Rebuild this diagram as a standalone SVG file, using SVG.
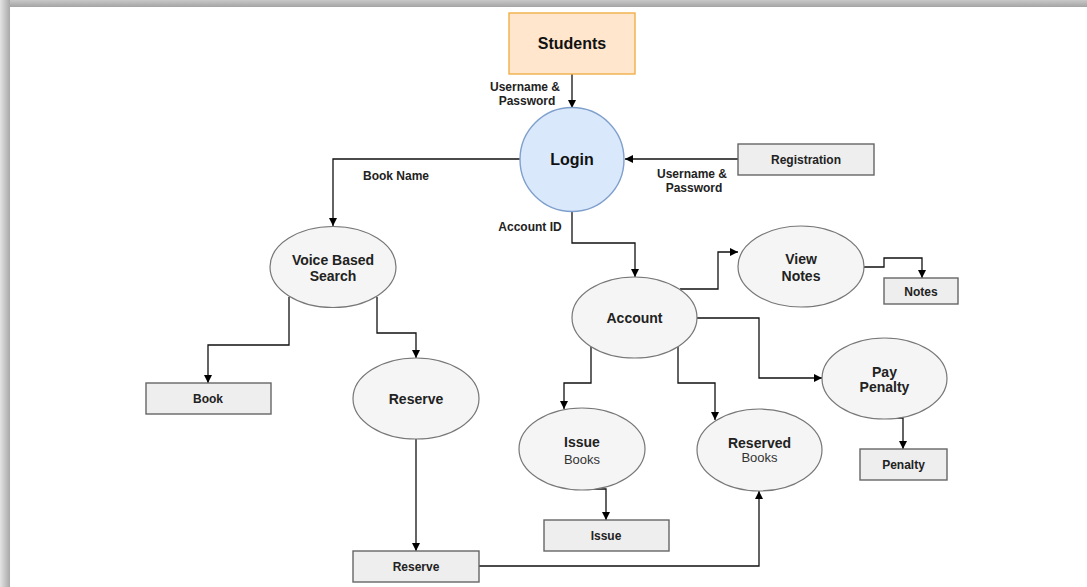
<svg xmlns="http://www.w3.org/2000/svg" width="1087" height="587" viewBox="0 0 1087 587">
<defs>
<linearGradient id="gTop" x1="0" y1="0" x2="0" y2="1"><stop offset="0" stop-color="#c8c8c8"/><stop offset="1" stop-color="#a4a4a4"/></linearGradient>
<linearGradient id="gLeft" x1="0" y1="0" x2="1" y2="0"><stop offset="0" stop-color="#e4e4e4"/><stop offset="1" stop-color="#a8a8a8"/></linearGradient>
<marker id="arr" viewBox="0 0 10 10" refX="10" refY="5" markerWidth="8" markerHeight="8" markerUnits="userSpaceOnUse" orient="auto"><path d="M0,0 L10,5 L0,10 Z" fill="#000"/></marker>
<style>
.ell{fill:#f5f5f5;stroke:#777777;stroke-width:1.2}
.box{fill:#eeeeee;stroke:#666666;stroke-width:1.4}
.t{font-family:"Liberation Sans",Arial,sans-serif;font-size:12px;font-weight:bold;fill:#222;text-anchor:middle}
.tn{font-family:"Liberation Sans",Arial,sans-serif;font-size:13px;fill:#333;text-anchor:middle}
.e{font-size:14px}
.big{font-size:16px;fill:#111}
.c{fill:none;stroke:#111;stroke-width:1.3;marker-end:url(#arr)}
</style>
</defs>
<rect x="0" y="0" width="1087" height="587" fill="#ffffff"/>
<rect x="0" y="0" width="1087" height="7" fill="url(#gTop)"/>
<rect x="0" y="0" width="10" height="587" fill="url(#gLeft)"/>
<rect x="10" y="7" width="1077" height="580" fill="#ffffff"/>

<g id="connectors">
<path class="c" d="M572,74 L572,108"/>
<path class="c" d="M738,159 L625,159"/>
<path class="c" d="M520,159 L333,159 L333,226"/>
<path class="c" d="M572,211 L572,243 L635,243 L635,277"/>
<path class="c" d="M289,297 L289,345 L208,345 L208,383"/>
<path class="c" d="M377,297 L377,333 L416,333 L416,358"/>
<path class="c" d="M416,439 L416,551"/>
<path class="c" d="M479,566 L759,566 L759,491"/>
<path class="c" d="M680,289 L718,289 L718,252 L738,252"/>
<path class="c" d="M864,267 L884,267 L884,258 L922,258 L922,278"/>
<path class="c" d="M697,318 L759,318 L759,378 L822,378"/>
<path class="c" d="M897,418 L903,418 L903,449"/>
<path class="c" d="M591,347 L591,383 L564,383 L564,409"/>
<path class="c" d="M678,347 L678,383 L715,383 L715,420"/>
<path class="c" d="M593,489 L606,489 L606,520"/>
</g>

<g id="labels">
<text class="t" x="525" y="91">Username &amp;</text>
<text class="t" x="527" y="105">Password</text>
<text class="t" x="692" y="178">Username &amp;</text>
<text class="t" x="694" y="192">Password</text>
<text class="t" x="396" y="180">Book Name</text>
<text class="t" x="530" y="231">Account ID</text>
</g>

<g id="students">
<rect x="509" y="13" width="126" height="61" fill="#ffe6cc" stroke="#f0b048" stroke-width="1.4"/>
<text class="t big" x="572" y="49">Students</text>
</g>
<g id="login">
<circle cx="572" cy="159.5" r="52" fill="#dae8fc" stroke="#7fa0cc" stroke-width="1.4"/>
<text class="t big" x="572" y="165">Login</text>
</g>
<g id="registration">
<rect x="738" y="144" width="136" height="31" class="box"/>
<text class="t" x="806" y="164">Registration</text>
</g>
<g id="voice-search">
<ellipse cx="333" cy="267" rx="63" ry="40.5" class="ell"/>
<text class="t e" x="333" y="265">Voice Based</text>
<text class="t e" x="333" y="281">Search</text>
</g>
<g id="book">
<rect x="146" y="383" width="125" height="31" class="box"/>
<text class="t" x="208" y="403">Book</text>
</g>
<g id="reserve-process">
<ellipse cx="416" cy="398.5" rx="63" ry="40.5" class="ell"/>
<text class="t e" x="416" y="404">Reserve</text>
</g>
<g id="reserve-store">
<rect x="353" y="551" width="126" height="31" class="box"/>
<text class="t" x="416" y="571">Reserve</text>
</g>
<g id="account">
<ellipse cx="634.5" cy="317.5" rx="62.5" ry="40.5" class="ell"/>
<text class="t e" x="634.5" y="323">Account</text>
</g>
<g id="view-notes">
<ellipse cx="801" cy="266.5" rx="63" ry="40.5" class="ell"/>
<text class="t e" x="801" y="264">View</text>
<text class="t e" x="801" y="281">Notes</text>
</g>
<g id="notes">
<rect x="884" y="278" width="74" height="26" class="box"/>
<text class="t" x="921" y="296">Notes</text>
</g>
<g id="pay-penalty">
<ellipse cx="884.5" cy="378.5" rx="62.5" ry="40.5" class="ell"/>
<text class="t e" x="884.5" y="377">Pay</text>
<text class="t e" x="884.5" y="392">Penalty</text>
</g>
<g id="penalty">
<rect x="860" y="449" width="87" height="31" class="box"/>
<text class="t" x="903.5" y="469">Penalty</text>
</g>
<g id="issue-books">
<ellipse cx="582" cy="449" rx="63" ry="41" class="ell"/>
<text class="t e" x="582" y="447">Issue</text>
<text class="tn" x="582" y="464">Books</text>
</g>
<g id="issue">
<rect x="544" y="520" width="125" height="31" class="box"/>
<text class="t" x="606" y="540">Issue</text>
</g>
<g id="reserved-books">
<ellipse cx="759.5" cy="450" rx="62.5" ry="41" class="ell"/>
<text class="t e" x="759.5" y="448">Reserved</text>
<text class="tn" x="759.5" y="462">Books</text>
</g>
</svg>
